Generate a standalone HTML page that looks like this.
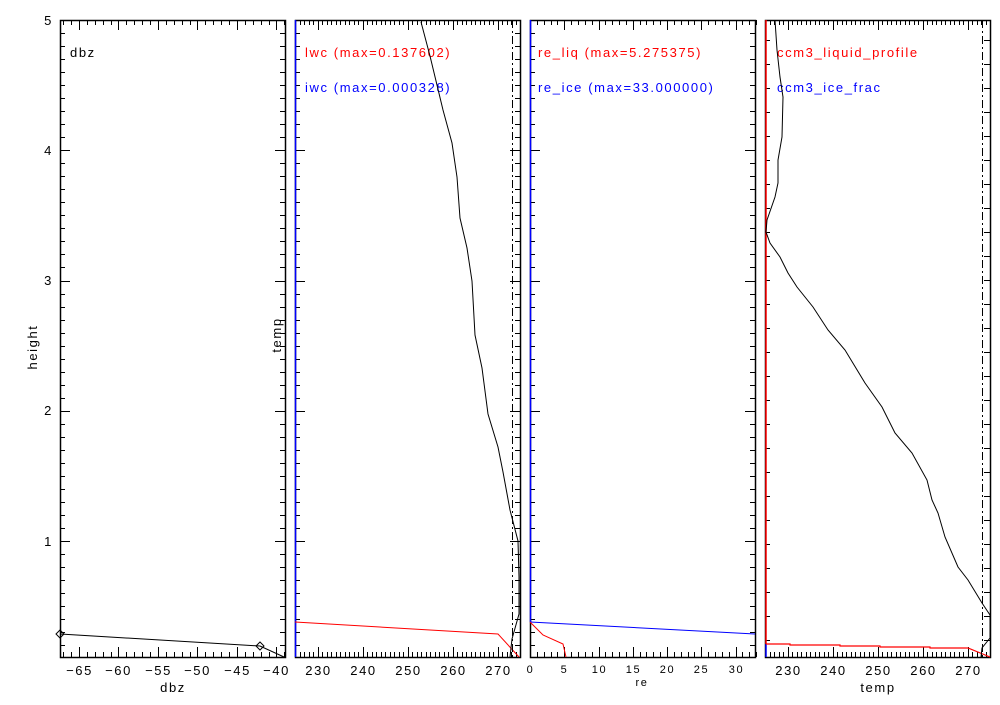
<!DOCTYPE html>
<html><head><meta charset="utf-8"><style>
body{margin:0;background:#fff}
svg text{font-family:"Liberation Sans",sans-serif;font-size:13px;letter-spacing:1.6px}
</style></head><body>
<svg id="s" width="1000" height="700" xmlns="http://www.w3.org/2000/svg">
<rect width="1000" height="700" fill="#fff"/>
<text x="53" y="25" text-anchor="end">5</text>
<text x="53" y="155" text-anchor="end">4</text>
<text x="53" y="285" text-anchor="end">3</text>
<text x="53" y="415" text-anchor="end">2</text>
<text x="53" y="546" text-anchor="end">1</text>
<text transform="translate(37,347) rotate(-90)" text-anchor="middle">height</text>
<text transform="translate(281,335) rotate(-90)" text-anchor="middle">temp</text>
<text x="70" y="57">dbz</text>
<text x="305" y="57" fill="#f00">lwc (max=0.137602)</text>
<text x="305" y="92" fill="#00f">iwc (max=0.000328)</text>
<text x="538" y="57" fill="#f00">re_liq (max=5.275375)</text>
<text x="538" y="92" fill="#00f">re_ice (max=33.000000)</text>
<text x="777" y="57" fill="#f00">ccm3_liquid_profile</text>
<text x="777" y="92" fill="#00f">ccm3_ice_frac</text>
<text x="173" y="692" text-anchor="middle">dbz</text>
<text x="642" y="686" text-anchor="middle" style="font-size:11px">re</text>
<text x="878" y="692" text-anchor="middle">temp</text>
<g id="g" stroke="#000" fill="none" stroke-width="1"></g>
<polyline points="60,634 260,646 284,657" stroke="#000" fill="none"/>
<path d="M60,630 l4,4 -4,4 -4,-4z M260,642 l4,4 -4,4 -4,-4z" stroke="#000" fill="none"/>
<line x1="295.5" y1="20" x2="295.5" y2="657" stroke="#00f" stroke-width="1.5"/>
<polyline points="295,622 498,634 519,657" stroke="#f00" fill="none"/>
<polyline points="421,22 430,56 443,110 452,143 457,177 460,218 467,248 472,281 475,335 482,368 488,414 498,447 503,472 510,510 518,541 519,577 519,614 512,639 510,657" stroke="#000" fill="none"/>
<line x1="512.5" y1="20" x2="512.5" y2="657" stroke="#000" stroke-dasharray="8,3,2,3"/>
<line x1="530.5" y1="20" x2="530.5" y2="622" stroke="#00f" stroke-width="1.5"/>
<polyline points="530,622 755,634" stroke="#00f" fill="none"/>
<polyline points="530,622 543,635 563,644 566,657" stroke="#f00" fill="none"/>
<line x1="766" y1="20" x2="766" y2="644" stroke="#f00" stroke-width="1.5"/>
<line x1="766" y1="644" x2="766" y2="657" stroke="#00f" stroke-width="1.5"/>
<polyline points="766,644 790,644 790,645 840,645 840,646 880,646 880,647 930,647 930,648 968,648 990,657" stroke="#f00" fill="none" stroke-width="1.2"/>
<polyline points="775,20 777,50 780,77 783,97 782,137 778,160 778,183 775,197 767,220 766,232 770,243 780,257 788,273 797,287 813,307 828,330 845,350 865,383 882,407 895,433 912,453 927,480 932,500 938,513 945,537 958,567 968,580 982,603 990,615 990,638 982,648 981,657" stroke="#000" fill="none"/>
<line x1="982.5" y1="20" x2="982.5" y2="657" stroke="#000" stroke-dasharray="8,3,2,3"/>
<g id="t"></g>
</svg>
<script>
var g=document.getElementById('g'),t=document.getElementById('t'),h='',tx='';
function L(a,b,c,d){h+='<line x1="'+a+'" y1="'+b+'" x2="'+c+'" y2="'+d+'"/>';}
var P=[[60,285],[295,520],[530,755],[765,990]],T=20,B=657;
P.forEach(function(p,i){
 var x0=p[0],x1=p[1];
 h+='<rect x="'+(x0+.5)+'" y="'+(T+.5)+'" width="'+(x1-x0)+'" height="'+(B-T)+'" stroke-width="1.5"/>';
 if(i<3){for(var k=2;k<=50;k++){var y=541-(k/10-1)*130.25;if(y<T||y>B)continue;var len=(k%10==0)?10:5;y=Math.round(y)+.5;L(x0,y,x0+len,y);L(x1,y,x1-len,y);}}
 else{for(var y=40;y<650;y+=24){var yy=y+.5;L(x0,yy,x0+5,yy);L(x1,yy,x1-6,yy);}}
 var xs=[];
 if(i==0){for(var v=-67;v<=-39;v++){var x=60+(v+67.4)*7.9;if(x>x1)continue;xs.push([x,v%5==0,v]);}}
 else if(i==2){for(var v=0;v<=33;v++){var x=530+v*6.85;xs.push([x,v%5==0,v]);}}
 else{for(var v=225;v<=275;v++){var x=x0+(v-225)*4.5;xs.push([x,v%10==0,v]);}}
 xs.forEach(function(a){var x=Math.round(a[0])+.5,len=a[1]?10:5;L(x,B,x,B-len);L(x,T,x,T+len);
  if(a[1]&&!(i!=2&&i!=0&&a[2]==275)&&!(i==0&&a[2]<-65)){var lab=(i==0?'\u2212'+(-a[2]):a[2]);
  tx+='<text x="'+x+'" y="'+(i==2?673:675)+'" text-anchor="middle"'+(i==2?' style="font-size:11px"':'')+'>'+lab+'</text>';}});
});
g.innerHTML=h;t.innerHTML=tx;
</script>
</body></html>
